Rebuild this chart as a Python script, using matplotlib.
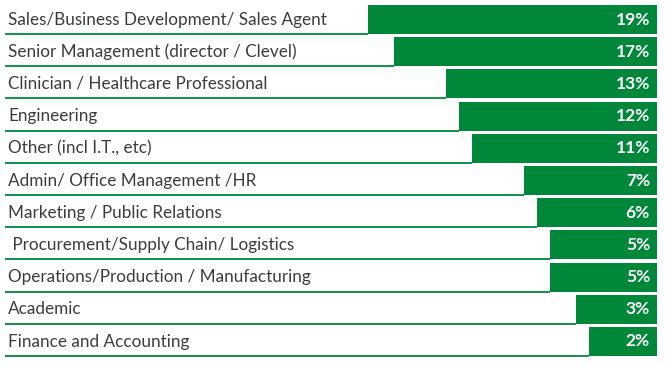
import matplotlib
matplotlib.use("Agg")
import matplotlib.pyplot as plt

categories = [
    "Sales/Business Development/ Sales Agent",
    "Senior Management (director / Clevel)",
    "Clinician / Healthcare Professional",
    "Engineering",
    "Other (incl I.T., etc)",
    "Admin/ Office Management /HR",
    "Marketing / Public Relations",
    " Procurement/Supply Chain/ Logistics",
    "Operations/Production / Manufacturing",
    "Academic",
    "Finance and Accounting",
]
values = [19, 17, 13, 12, 11, 7, 6, 5, 5, 3, 2]
value_labels = ["19%", "17%", "13%", "12%", "11%", "7%", "6%", "5%", "5%", "3%", "2%"]

green = "#00873a"
text_color = "#3c3c3c"
pad = 3.2  # bars carry a fixed stub so the label always fits
scale = 13.0  # px per percent

plt.rcParams["font.family"] = ["Lato", "DejaVu Sans"]

fig = plt.figure(figsize=(6.65, 3.66), dpi=100)
ax = fig.add_axes([0, 0, 657 / 665, 1])
ax.set_xlim(657 / scale, 0)
ax.set_ylim((366 - 19.5) / 32.2, -19.5 / 32.2)
ax.axis("off")

ys = list(range(len(categories)))
lengths = [v + pad for v in values]
ax.barh(ys, lengths, height=0.9, color=green, left=0)

for y, name, length, lab in zip(ys, categories, lengths, value_labels):
    ax.text((657 - 8) / scale, y, name, ha="left", va="center",
            fontsize=12.3, color=text_color)
    ax.text(7 / scale, y, lab, ha="right", va="center", fontsize=12.5,
            fontweight="bold", color="white")
    ax.plot([(657 - 5) / scale, length], [y + 0.45, y + 0.45],
            color=green, lw=1.3, solid_capstyle="butt")

fig.savefig("out.png", dpi=100)
